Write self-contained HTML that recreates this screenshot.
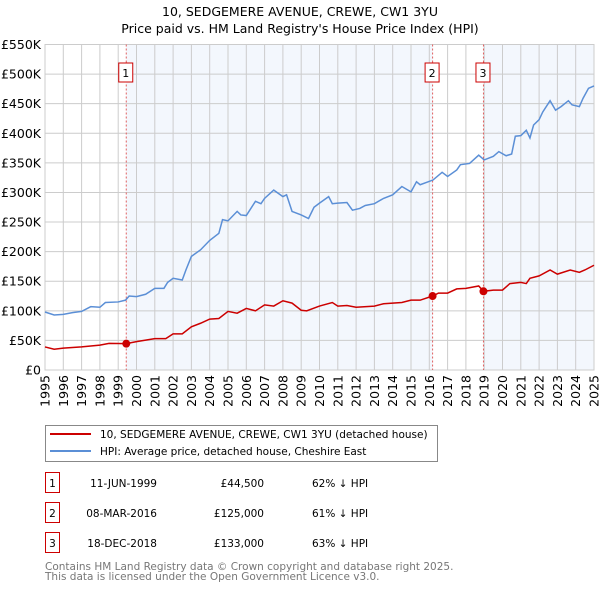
<!DOCTYPE html>
<html><head><meta charset="utf-8"><style>
body{margin:0;background:#fff;font-family:"Liberation Sans","DejaVu Sans",sans-serif;}
#wrap{position:relative;width:600px;height:590px;overflow:hidden;}
svg text{font-family:"DejaVu Sans","Liberation Sans",sans-serif;}
</style></head><body><div id="wrap">
<svg id="chart" width="600" height="590" xmlns="http://www.w3.org/2000/svg">
<text x="300" y="16" text-anchor="middle" font-size="12.5">10, SEDGEMERE AVENUE, CREWE, CW1 3YU</text>
<text x="300" y="33" text-anchor="middle" font-size="12.5">Price paid vs. HM Land Registry's House Price Index (HPI)</text>
</svg>
</div>
<script>
const hpiYears=[1995,1995.5,1996,1996.5,1997,1997.5,1998,1998.3,1999,1999.4,1999.6,2000,2000.5,2001,2001.5,2001.7,2002,2002.5,2002.7,2003,2003.5,2004,2004.5,2004.7,2005,2005.5,2005.7,2006,2006.5,2006.8,2007,2007.5,2008,2008.2,2008.5,2009,2009.4,2009.7,2010,2010.5,2010.7,2011,2011.5,2011.8,2012.2,2012.5,2013,2013.5,2014,2014.5,2015,2015.3,2015.5,2016.2,2016.7,2017,2017.5,2017.7,2018.2,2018.7,2019,2019.5,2019.8,2020.2,2020.5,2020.7,2021,2021.3,2021.5,2021.7,2022,2022.2,2022.6,2022.9,2023.2,2023.6,2023.8,2024.2,2024.4,2024.7,2025];
const hpiValues=[98,93,94,97,99,107,106,114,115,118,125,124,128,138,138,148,155,152,169,192,203,219,231,254,252,268,262,261,285,281,290,304,293,296,268,262,256,275,282,293,281,282,283,270,273,278,281,290,296,310,301,318,313,321,334,327,338,347,349,363,355,361,369,362,365,395,396,405,392,414,423,436,455,439,445,455,448,445,459,476,480];
const ppYears=[1995,1995.5,1996,1997,1998,1998.5,1999.44,2000,2001,2001.6,2002,2002.5,2003,2003.5,2004,2004.5,2005,2005.5,2006,2006.5,2007,2007.5,2008,2008.5,2009,2009.3,2010,2010.7,2011,2011.5,2012,2013,2013.5,2014.5,2015,2015.5,2016.18,2016.5,2017,2017.5,2018,2018.7,2018.96,2019.5,2020,2020.4,2021,2021.3,2021.5,2022,2022.6,2023,2023.7,2024.2,2024.5,2025];
const ppValues=[39,35,37,39,42,45,44.5,48,53,53,61,61,73,79,86,87,99,96,104,100,110,108,117,113,101,100,108,114,108,109,106,108,112,114,118,118,125,130,130,137,138,142,133,135,135,146,148,146,155,159,169,162,169,165,169,177];
const saleYears=[1999.44,2016.18,2018.96];
const saleValues=[44.5,125,133];
const saleLabels=["1","2","3"];
const yTicks=[0,50,100,150,200,250,300,350,400,450,500,550];
const yTickLabels=["£0","£50K","£100K","£150K","£200K","£250K","£300K","£350K","£400K","£450K","£500K","£550K"];
const xTicks=[1995,1996,1997,1998,1999,2000,2001,2002,2003,2004,2005,2006,2007,2008,2009,2010,2011,2012,2013,2014,2015,2016,2017,2018,2019,2020,2021,2022,2023,2024,2025];

const NS="http://www.w3.org/2000/svg";
const svg=document.getElementById('chart');
const L=45,R=594,T=44.5,B=370;
const xs=y=>L+(y-1995)/30*(R-L);
const ys=v=>B-v/550*(B-T);
function mk(tag,attrs,parent){const e=document.createElementNS(NS,tag);for(const k in attrs)e.setAttribute(k,attrs[k]);(parent||svg).appendChild(e);return e;}

let sh=mk('rect',{x:xs(saleYears[0]),y:T,width:xs(saleYears[1])-xs(saleYears[0]),height:B-T,fill:'#eef3fc',opacity:0.7});


let sh2=mk('rect',{x:xs(saleYears[2]),y:T,width:R-xs(saleYears[2]),height:B-T,fill:'#eef3fc',opacity:0.7});



yTicks.forEach((v,i)=>{
  const g=mk('line',{x1:L,x2:R,y1:ys(v),y2:ys(v),stroke:'#cccccc','stroke-width':1});
  
  
  const t=mk('text',{x:L-4,y:ys(v)+4.5,'text-anchor':'end','font-size':'12.5'});
  t.textContent=yTickLabels[i];
  
  
});
xTicks.forEach(yr=>{
  const g=mk('line',{x1:xs(yr),x2:xs(yr),y1:T,y2:B,stroke:'#cccccc','stroke-width':1});
  
  
  const t=mk('text',{x:0,y:0,'text-anchor':'end','font-size':'12.5',transform:`translate(${xs(yr)+4.5},${B+5}) rotate(-90)`});
  t.textContent=yr;
  
  
});
let fr=mk('rect',{x:L,y:T,width:R-L,height:B-T,fill:'none',stroke:'#cccccc'});



saleYears.forEach((yr,i)=>{
  const l=mk('line',{x1:xs(yr),x2:xs(yr),y1:T,y2:B,stroke:'#e06060','stroke-width':1,'stroke-dasharray':'2,2'});
  
  
  const bx=mk('rect',{x:xs(yr)-7.5,y:63,width:14,height:19,fill:'#fff',stroke:'#cc0000'});
  
  
  const t=mk('text',{x:xs(yr)-0.5,y:77,'text-anchor':'middle','font-size':'11'});
  t.textContent=saleLabels[i];
  
  
});

const hp=mk('polyline',{points:hpiYears.map((y,i)=>xs(y)+','+ys(hpiValues[i])).join(' '),fill:'none',stroke:'#5b8fd6','stroke-width':1.5});


const pp=mk('polyline',{points:ppYears.map((y,i)=>xs(y)+','+ys(ppValues[i])).join(' '),fill:'none',stroke:'#cc0000','stroke-width':1.5});


saleYears.forEach((yr,i)=>{
  const c=mk('circle',{cx:xs(yr),cy:ys(saleValues[i]),r:4,fill:'#cc0000'});
  
  
});

const lg=mk('rect',{x:45.5,y:425.5,width:392,height:36,fill:'#fff',stroke:'#888'});


const l1=mk('line',{x1:50,x2:91,y1:434,y2:434,stroke:'#cc0000','stroke-width':2});


const t1=mk('text',{x:100,y:438,'font-size':'10.5'});t1.textContent='10, SEDGEMERE AVENUE, CREWE, CW1 3YU (detached house)';


const l2=mk('line',{x1:50,x2:91,y1:451,y2:451,stroke:'#5b8fd6','stroke-width':2});


const t2=mk('text',{x:100,y:455,'font-size':'10.5'});t2.textContent='HPI: Average price, detached house, Cheshire East';



const dates=["11-JUN-1999","08-MAR-2016","18-DEC-2018"];
const prices=["£44,500","£125,000","£133,000"];
const rel=["62% ↓ HPI","61% ↓ HPI","63% ↓ HPI"];
dates.forEach((d,i)=>{
  const cy=483+i*30;
  const b=mk('rect',{x:45.5,y:cy-10.5,width:14,height:20,fill:'#fff',stroke:'#cc0000'});
  
  
  const n=mk('text',{x:52.5,y:cy+4,'text-anchor':'middle','font-size':'10.5'});n.textContent=saleLabels[i];
  
  
  const a=mk('text',{x:157,y:cy+4,'text-anchor':'end','font-size':'10.5'});a.textContent=d;
  
  
  const p=mk('text',{x:264,y:cy+4,'text-anchor':'end','font-size':'10.5'});p.textContent=prices[i];
  
  
  const r=mk('text',{x:312,y:cy+4,'font-size':'10.5'});r.textContent=rel[i];
  
  
});
const f1=mk('text',{x:45,y:570,'font-size':'10.5',fill:'#777'});f1.textContent='Contains HM Land Registry data © Crown copyright and database right 2025.';


const f2=mk('text',{x:45,y:580,'font-size':'10.5',fill:'#777'});f2.textContent='This data is licensed under the Open Government Licence v3.0.';


</script></body></html>
